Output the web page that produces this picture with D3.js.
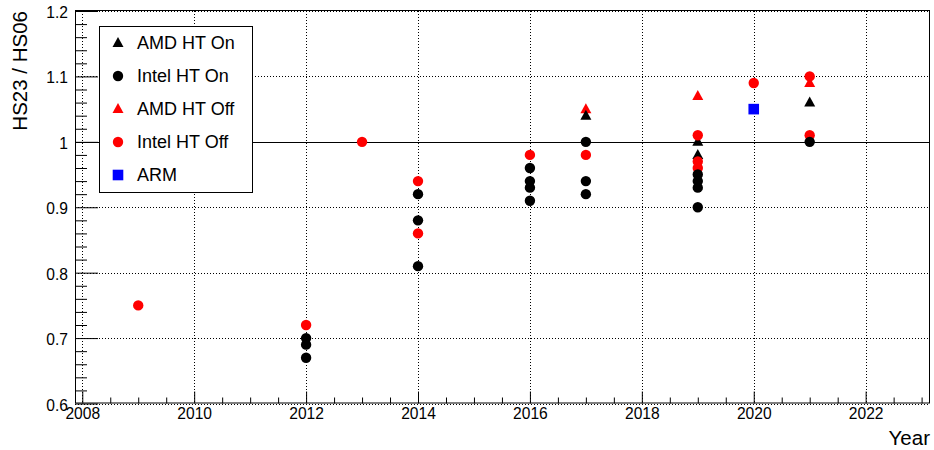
<!DOCTYPE html>
<html><head><meta charset="utf-8">
<script src="https://cdn.jsdelivr.net/npm/d3@7"></script>
<style>
html,body{margin:0;padding:0;background:#fff;}
svg{display:block;font-family:"Liberation Sans",Arial,sans-serif;}
</style></head>
<body>
<svg id="c" width="934" height="450"></svg>
<script>
// ---- data ----
const amdHtOnYears   = [2017, 2019, 2019, 2021];
const amdHtOnValues  = [1.04, 1.00, 0.98, 1.06];
const intelHtOnYears  = [2012, 2012, 2012, 2014, 2014, 2014, 2016, 2016, 2016, 2016, 2017, 2017, 2017, 2019, 2019, 2019, 2019, 2021];
const intelHtOnValues = [0.70, 0.69, 0.67, 0.92, 0.88, 0.81, 0.96, 0.94, 0.93, 0.91, 1.00, 0.94, 0.92, 0.95, 0.94, 0.93, 0.90, 1.00];
const amdHtOffYears  = [2017, 2019, 2021];
const amdHtOffValues = [1.05, 1.07, 1.09];
const intelHtOffYears  = [2009, 2012, 2013, 2014, 2014, 2016, 2017, 2019, 2019, 2019, 2020, 2021, 2021];
const intelHtOffValues = [0.75, 0.72, 1.00, 0.94, 0.86, 0.98, 0.98, 1.01, 0.97, 0.96, 1.09, 1.10, 1.01];
const armYears  = [2020];
const armValues = [1.05];

const seriesNames = ["AMD HT On", "Intel HT On", "AMD HT Off", "Intel HT Off", "ARM"];
const xTicks = [2008, 2010, 2012, 2014, 2016, 2018, 2020, 2022];
const yTicks = [0.6, 0.7, 0.8, 0.9, 1.0, 1.1, 1.2];
const xTitle = "Year";
const yTitle = "HS23 / HS06";

// ---- layout ----
const L = 75, R = 930, T = 11, B = 403.5;
const x = d3.scaleLinear().domain([2007.87, 2023.15]).range([L, R]);
const y = d3.scaleLinear().domain([0.6, 1.2]).range([B, T]);
const svg = d3.select("#c");

const zip = (a, b) => a.map((v, i) => ({year: v, value: b[i]}));
const series = [
  {name: seriesNames[0], data: zip(amdHtOnYears, amdHtOnValues), shape: "tri", color: "#000000"},
  {name: seriesNames[1], data: zip(intelHtOnYears, intelHtOnValues), shape: "circ", color: "#000000"},
  {name: seriesNames[2], data: zip(amdHtOffYears, amdHtOffValues), shape: "tri", color: "#ff0000"},
  {name: seriesNames[3], data: zip(intelHtOffYears, intelHtOffValues), shape: "circ", color: "#ff0000"},
  {name: seriesNames[4], data: zip(armYears, armValues), shape: "sq", color: "#0000ff"}
];

// grid
const grid = svg.append("g").attr("stroke", "#000").attr("stroke-width", 1).attr("stroke-dasharray", "1,2");
grid.selectAll("line.gx").data(xTicks).enter().append("line")
  .attr("x1", d => Math.round(x(d)) + 0.5).attr("x2", d => Math.round(x(d)) + 0.5)
  .attr("y1", T).attr("y2", B);
grid.selectAll("line.gy").data(yTicks).enter().append("line")
  .attr("y1", d => Math.round(y(d)) + 0.5).attr("y2", d => Math.round(y(d)) + 0.5)
  .attr("x1", L).attr("x2", R);

// reference line at 1
svg.append("line").attr("x1", L).attr("x2", R)
  .attr("y1", Math.round(y(1)) + 0.5).attr("y2", Math.round(y(1)) + 0.5)
  .attr("stroke", "#000").attr("stroke-width", 1.2);

// axes
const fs = "15.6px";
const xMinor = d3.range(2008, 2023.01, 0.5).filter(v => v % 2 !== 0);
const yMinor = d3.range(0, 31).map(i => 0.6 + i * 0.02).filter(v => Math.abs(v * 10 - Math.round(v * 10)) > 1e-6);

const gx = svg.append("g").attr("transform", `translate(0,${B})`)
  .call(d3.axisBottom(x).tickValues(xTicks).tickSize(-12).tickPadding(4.5).tickFormat(d3.format("d")));
gx.select(".domain").remove();
gx.selectAll("text").attr("font-size", fs).attr("font-family", "Liberation Sans, Arial, sans-serif").attr("fill", "#000");
gx.selectAll("line").attr("stroke", "#000");
const gxm = svg.append("g").attr("transform", `translate(0,${B})`)
  .call(d3.axisBottom(x).tickValues(xMinor).tickSize(-6).tickFormat(""));
gxm.select(".domain").remove();
gxm.selectAll("line").attr("stroke", "#000");

const gy = svg.append("g").attr("transform", `translate(${L},0)`)
  .call(d3.axisLeft(y).tickValues(yTicks).tickSize(-23).tickPadding(7).tickFormat(d => String(+d.toFixed(1))));
gy.select(".domain").remove();
gy.selectAll("text").attr("font-size", fs).attr("font-family", "Liberation Sans, Arial, sans-serif").attr("fill", "#000").attr("dy", "0.42em");
gy.selectAll("line").attr("stroke", "#000");
const gym = svg.append("g").attr("transform", `translate(${L},0)`)
  .call(d3.axisLeft(y).tickValues(yMinor).tickSize(-12).tickFormat(""));
gym.select(".domain").remove();
gym.selectAll("line").attr("stroke", "#000");

// frame
svg.append("rect").attr("x", L + 0.5).attr("y", T - 0.5).attr("width", R - L - 1).attr("height", B - T)
  .attr("fill", "none").attr("stroke", "#000").attr("stroke-width", 1);

// markers
function drawMarker(g, shape, cx, cy, color) {
  if (shape === "circ") {
    g.append("circle").attr("cx", cx).attr("cy", cy).attr("r", 5.2).attr("fill", color);
  } else if (shape === "tri") {
    const w = 11, h = 10;
    g.append("path").attr("d", `M${cx},${cy - h * 0.6}L${cx + w / 2},${cy + h * 0.4}L${cx - w / 2},${cy + h * 0.4}Z`).attr("fill", color);
  } else {
    const s = 10.6;
    g.append("rect").attr("x", cx - s / 2).attr("y", cy - s / 2).attr("width", s).attr("height", s).attr("fill", color);
  }
}
const drawOrder = [2, 0, 3, 1, 4];
const mg = svg.append("g");
drawOrder.forEach(i => {
  const s = series[i];
  s.data.forEach(d => drawMarker(mg, s.shape, x(d.year), y(d.value), s.color));
});

// legend
const lg = svg.append("g");
lg.append("rect").attr("x", 99.5).attr("y", 26.5).attr("width", 153).attr("height", 166)
  .attr("fill", "#fff").attr("stroke", "#000").attr("stroke-width", 1);
series.forEach((s, i) => {
  const cy = 43 + i * 33;
  drawMarker(lg, s.shape, 118, cy, s.color);
  lg.append("text").attr("x", 137).attr("y", cy).attr("dy", "0.36em")
    .attr("font-size", "18px").attr("fill", "#000").text(s.name);
});

// titles
svg.append("text").attr("x", 930).attr("y", 445).attr("text-anchor", "end")
  .attr("font-size", "20.5px").attr("fill", "#000").text(xTitle);
svg.append("text").attr("transform", "translate(26.5,11) rotate(-90)").attr("text-anchor", "end")
  .attr("font-size", "20.5px").attr("fill", "#000").text(yTitle);
</script>
</body></html>
